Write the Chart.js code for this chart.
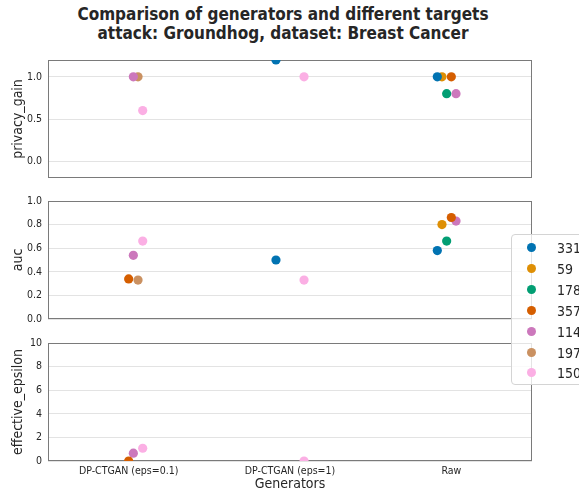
<!DOCTYPE html>
<html>
<head>
<meta charset="utf-8">
<script src="https://cdn.jsdelivr.net/npm/chart.js@4.4.1/dist/chart.umd.min.js"></script>
<style>
  html, body { margin: 0; padding: 0; background: #fff; }
  body { position: relative; width: 579px; height: 496px; overflow: hidden;
         font-family: 'DejaVu Sans Condensed', 'DejaVu Sans', sans-serif; color: #262626; }
  #title { position: absolute; left: 0; top: 5px; width: 566px; text-align: center;
           font-weight: bold; font-size: 17px; line-height: 19px; }
  canvas { position: absolute; left: 0; }
  #legend { position: absolute; left: 511px; top: 234px; width: 110px; height: 151px;
            box-sizing: border-box; border: 1px solid #d4d4d4; border-radius: 4px;
            background: rgba(255,255,255,0.8); z-index: 5; }
  .lg-row { position: absolute; left: 0; height: 20px; width: 110px; }
  .lg-dot { position: absolute; left: 15px; top: 5px; width: 9px; height: 9px; border-radius: 50%; }
  .lg-text { position: absolute; left: 45px; top: 0; font-size: 14px; line-height: 20px; }
</style>
</head>
<body>
<div id="title">Comparison of generators and different targets<br>attack: Groundhog, dataset: Breast Cancer</div>
<canvas id="c1" width="579" height="131" style="top:52px"></canvas>
<canvas id="c2" width="579" height="131" style="top:193px"></canvas>
<canvas id="c3" width="579" height="161" style="top:335px"></canvas>
<div id="legend"></div>
<script>
// Generators on the x axis
const categories = ['DP-CTGAN (eps=0.1)', 'DP-CTGAN (eps=1)', 'Raw'];
// Target record ids (hue)
const targets = ['331', '59', '178', '357', '114', '197', '150'];
const palette = ['#0173b2', '#de8f05', '#029e73', '#d55e00', '#cc78bc', '#ca9161', '#fbafe4'];

// One row per target, one column per generator (null = no result)
const privacyGain = [
  [null, 1.2, 1.0],   // 331
  [null, null, 1.0],  // 59
  [null, null, 0.8],  // 178
  [null, null, 1.0],  // 357
  [1.0, null, 0.8],   // 114
  [1.0, null, null],  // 197
  [0.6, 1.0, null]    // 150
];
const auc = [
  [null, 0.50, 0.58],
  [null, null, 0.80],
  [null, null, 0.66],
  [0.34, null, 0.86],
  [0.54, null, 0.83],
  [0.33, null, null],
  [0.66, 0.33, null]
];
const effectiveEpsilon = [
  [null, null, null],
  [null, null, null],
  [null, null, null],
  [0.0, null, null],
  [0.66, null, null],
  [null, null, null],
  [1.08, 0.0, null]
];

const privacyTicks = [0.0, 0.5, 1.0];
const aucTicks = [0.0, 0.2, 0.4, 0.6, 0.8, 1.0];
const epsilonTicks = [0, 2, 4, 6, 8, 10];

const FONT = "'DejaVu Sans Condensed', 'DejaVu Sans', sans-serif";
const TEXT = '#262626';
const DODGE = 0.029;   // horizontal separation between hue levels, in category units

// Outline of the plot area
const framePlugin = {
  id: 'frame',
  beforeDatasetsDraw(chart) {
    const { ctx, chartArea: a } = chart;
    ctx.save();
    ctx.strokeStyle = '#7a7a7a';
    ctx.lineWidth = 1;
    const l = Math.round(a.left) + 0.5, t = Math.round(a.top) + 0.5;
    const r = Math.round(a.right) - 0.5, b = Math.round(a.bottom) - 0.5;
    ctx.strokeRect(l, t, r - l, b - t);
    ctx.restore();
  }
};

function buildDatasets(values) {
  return targets.map((t, h) => ({
    label: t,
    data: categories
      .map((c, i) => values[h][i] == null ? null : { x: i + (h - 3) * DODGE, y: values[h][i] })
      .filter(p => p !== null),
    backgroundColor: palette[h],
    borderColor: palette[h],
    borderWidth: 0,
    pointRadius: 4.6,
    pointHoverRadius: 4.6,
    clip: 0
  }));
}

function makeChart(id, values, yTicks, yMin, yMax, yTitle, decimals, showX, padTop, padBottom) {
  return new Chart(document.getElementById(id), {
    type: 'scatter',
    data: { datasets: buildDatasets(values) },
    options: {
      responsive: false,
      animation: false,
      devicePixelRatio: 1,
      events: [],
      layout: { padding: { left: 0, right: 47, top: padTop, bottom: padBottom } },
      plugins: { legend: { display: false }, tooltip: { enabled: false }, title: { display: false } },
      scales: {
        x: {
          type: 'linear',
          min: -0.5,
          max: 2.5,
          display: showX,
          afterBuildTicks: s => { s.ticks = categories.map((c, i) => ({ value: i })); },
          afterFit: s => {
            if (showX) s.height = 35;
            s.paddingLeft = 0; s.paddingRight = 0;
          },
          grid: { display: false, drawTicks: false },
          border: { display: false },
          ticks: {
            autoSkip: false,
            maxRotation: 0,
            padding: 4,
            color: TEXT,
            font: { family: FONT, size: 10.5 },
            callback: v => categories[v]
          },
          title: {
            display: showX,
            text: 'Generators',
            color: TEXT,
            font: { family: FONT, size: 14 },
            padding: { top: 0, bottom: 3 }
          }
        },
        y: {
          type: 'linear',
          min: yMin,
          max: yMax,
          afterBuildTicks: s => { s.ticks = yTicks.map(v => ({ value: v })); },
          afterFit: s => { s.width = 48; s.paddingTop = 0; s.paddingBottom = 0; },
          grid: { color: '#e3e3e3', lineWidth: 1, drawTicks: false },
          border: { display: false },
          ticks: {
            padding: 6,
            color: TEXT,
            font: { family: FONT, size: 10.5 },
            callback: v => v.toFixed(decimals)
          },
          title: {
            display: true,
            text: yTitle,
            color: TEXT,
            font: { family: FONT, size: 14 },
            padding: { top: 10, bottom: 0 }
          }
        }
      }
    },
    plugins: [framePlugin]
  });
}

makeChart('c1', privacyGain, privacyTicks, -0.2, 1.2, 'privacy_gain', 1, false, 8, 5);
makeChart('c2', auc, aucTicks, 0, 1, 'auc', 1, false, 8, 5);
makeChart('c3', effectiveEpsilon, epsilonTicks, 0, 10, 'effective_epsilon', 0, true, 8, 0);

// Legend listing the targets
const legend = document.getElementById('legend');
targets.forEach((t, h) => {
  const row = document.createElement('div');
  row.className = 'lg-row';
  row.style.top = (3 + h * 20.9) + 'px';
  const dot = document.createElement('span');
  dot.className = 'lg-dot';
  dot.style.background = palette[h];
  const txt = document.createElement('span');
  txt.className = 'lg-text';
  txt.textContent = t;
  row.appendChild(dot);
  row.appendChild(txt);
  legend.appendChild(row);
});
</script>
</body>
</html>
